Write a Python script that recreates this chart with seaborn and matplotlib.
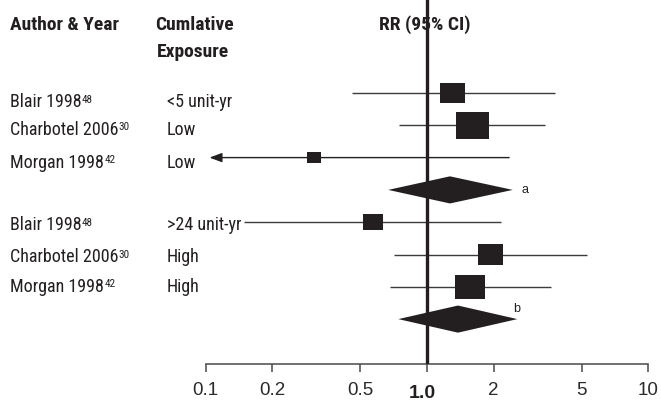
import numpy as np
import pandas as pd
import matplotlib
matplotlib.use("Agg")
import matplotlib.pyplot as plt
import seaborn as sns
from matplotlib import font_manager as fm
from matplotlib.transforms import blended_transform_factory

# ---------------- data ----------------
authors = ["Blair 1998", "Charbotel 2006", "Morgan 1998",
           "Blair 1998", "Charbotel 2006", "Morgan 1998"]
refs = ["48", "30", "42", "48", "30", "42"]
exposure = ["<5 unit-yr", "Low", "Low", ">24 unit-yr", "High", "High"]
rr = [1.31, 1.60, 0.31, 0.568, 1.93, 1.57]
rr_lower = [0.458, 0.75, 0.07, 0.149, 0.71, 0.68]
rr_upper = [3.79, 3.41, 2.35, 2.15, 5.27, 3.63]
weight = [25, 33, 14, 20, 25, 30]

pooled_label = ["a", "b"]
pooled_rr = [1.27, 1.38]
pooled_lower = [0.668, 0.742]
pooled_upper = [2.44, 2.56]

ticks = [0.1, 0.2, 0.5, 1, 2, 5, 10]
tick_labels = ["0.1", "0.2", "0.5", "1.0", "2", "5", "10"]

# ---------------- layout ----------------
W, H = 661, 402
study_rows = [0, 1, 2, 4, 5, 6]
pooled_rows = [3, 7]
text_shift = [0.2, 0.04, 0.06, 0.0, 0.0, -0.1]
ink = "#231f20"
line_col = "#3c3c3c"

sns.set_theme(style="white")
names = {f.name for f in fm.fontManager.ttflist}
narrow = None
for cand in ["Liberation Sans Narrow", "Roboto Condensed", "Open Sans Condensed"]:
    if cand in names:
        narrow = cand
        break
if narrow:
    label_font, label_size, head_size = narrow, 13, 14
else:
    label_font, label_size, head_size = "Liberation Sans", 11.5, 12
plt.rcParams["font.family"] = [label_font, "DejaVu Sans"]

fig = plt.figure(figsize=(W / 100, H / 100), dpi=100)
x0, x1 = 205.7, 648.3
yaxis_px = 365
ax = fig.add_axes([x0 / W, (H - yaxis_px) / H, (x1 - x0) / W, yaxis_px / H])
ax.set_xscale("log")
ax.set_xlim(0.1, 10)
row_px0, row_step = 94.0, 32.3
ax.set_ylim((yaxis_px - row_px0) / row_step, -row_px0 / row_step)
ax.patch.set_alpha(0)

# CI lines
arrow_min = 0.104
for r, lo, hi in zip(study_rows, rr_lower, rr_upper):
    if lo < 0.1:
        ax.annotate("", xy=(arrow_min, r), xytext=(hi, r),
                    arrowprops=dict(arrowstyle="-|>,head_length=0.75,head_width=0.28",
                                    lw=1.0, color=ink, mutation_scale=10,
                                    shrinkA=0, shrinkB=0), zorder=2)
    else:
        ax.hlines(r, lo, hi, color=line_col, lw=1.0, zorder=2)

# reference line at RR = 1
ax.axvline(1, color=ink, lw=2.4, zorder=3)

# study squares
df = pd.DataFrame({"row": study_rows, "rr": rr, "weight": weight})
asp = 1.22
square = [(-asp, -1), (asp, -1), (asp, 1), (-asp, 1), (-asp, -1)]
sns.scatterplot(data=df, x="rr", y="row", marker=square,
                s=[(w * 0.72) ** 2 for w in weight],
                color=ink, edgecolor="none", linewidth=0, legend=False,
                ax=ax, zorder=4)

# pooled diamonds
half_h = 0.42
for r, p, lo, hi, lab, off in zip(pooled_rows, pooled_rr, pooled_lower, pooled_upper,
                                  pooled_label, [(6, 1), (-3, 8)]):
    ax.fill([lo, p, hi, p], [r, r - half_h, r, r + half_h], color=ink, lw=0, zorder=4)
    ax.annotate(lab, xy=(hi, r), xytext=off, textcoords="offset points",
                fontsize=9, family="Liberation Sans", color=ink, va="center", ha="left")

# axis styling
for s in ["top", "left", "right"]:
    ax.spines[s].set_visible(False)
ax.spines["bottom"].set_color("#4a4a4a")
ax.spines["bottom"].set_linewidth(1.1)
ax.spines["bottom"].set_bounds(0.1, 10)
ax.set_xticks(ticks)
ax.set_xticklabels([("" if t == 1 else l) for t, l in zip(ticks, tick_labels)],
                   fontsize=13.5, family="Liberation Sans", color="#2a2a2a")
ax.xaxis.set_minor_locator(matplotlib.ticker.NullLocator())
ax.tick_params(axis="x", which="major", direction="out", length=6, width=1.1,
               color="#4a4a4a", pad=6, bottom=True)
ax.set_yticks([])
ax.set_xlabel("")
ax.set_ylabel("")
ax.grid(False)
ax.annotate(tick_labels[ticks.index(1)], xy=(1, 0), xycoords=("data", "axes fraction"),
            xytext=(-3.6, -20.5), textcoords="offset points", ha="center", va="center",
            fontsize=14, fontweight="bold", family="Liberation Sans", color=ink,
            annotation_clip=False)

# row labels
tr = blended_transform_factory(fig.transFigure, ax.transData)
for r, a, ref, e, sh in zip(study_rows, authors, refs, exposure, text_shift):
    t = ax.text(10 / W, r + sh, a, transform=tr,
                fontsize=label_size, color=ink, va="center_baseline", ha="left")
    ax.annotate(ref, xy=(1, 0.92), xycoords=t, xytext=(0.2, 0),
                textcoords="offset points", fontsize=label_size * 0.62,
                color=ink, va="top", ha="left")
    ax.text(167 / W, r + sh, e, transform=tr,
            fontsize=label_size, color=ink, va="center_baseline", ha="left")

# headers
def row_of(px):
    return (px - row_px0) / row_step

ax.text(10 / W, row_of(30.5), "Author & Year", transform=tr, fontsize=head_size,
        fontweight="bold", color=ink, va="baseline", ha="left")
ax.text(155 / W, row_of(30.5), "Cumlative", transform=tr, fontsize=head_size,
        fontweight="bold", color=ink, va="baseline", ha="left")
ax.text(157 / W, row_of(57), "Exposure", transform=tr, fontsize=head_size,
        fontweight="bold", color=ink, va="baseline", ha="left")
ax.text(379 / W, row_of(29.5), "RR (95% CI)", transform=tr, fontsize=head_size,
        fontweight="bold", color=ink, va="baseline", ha="left")

fig.savefig("out.png", dpi=100, facecolor="white")
